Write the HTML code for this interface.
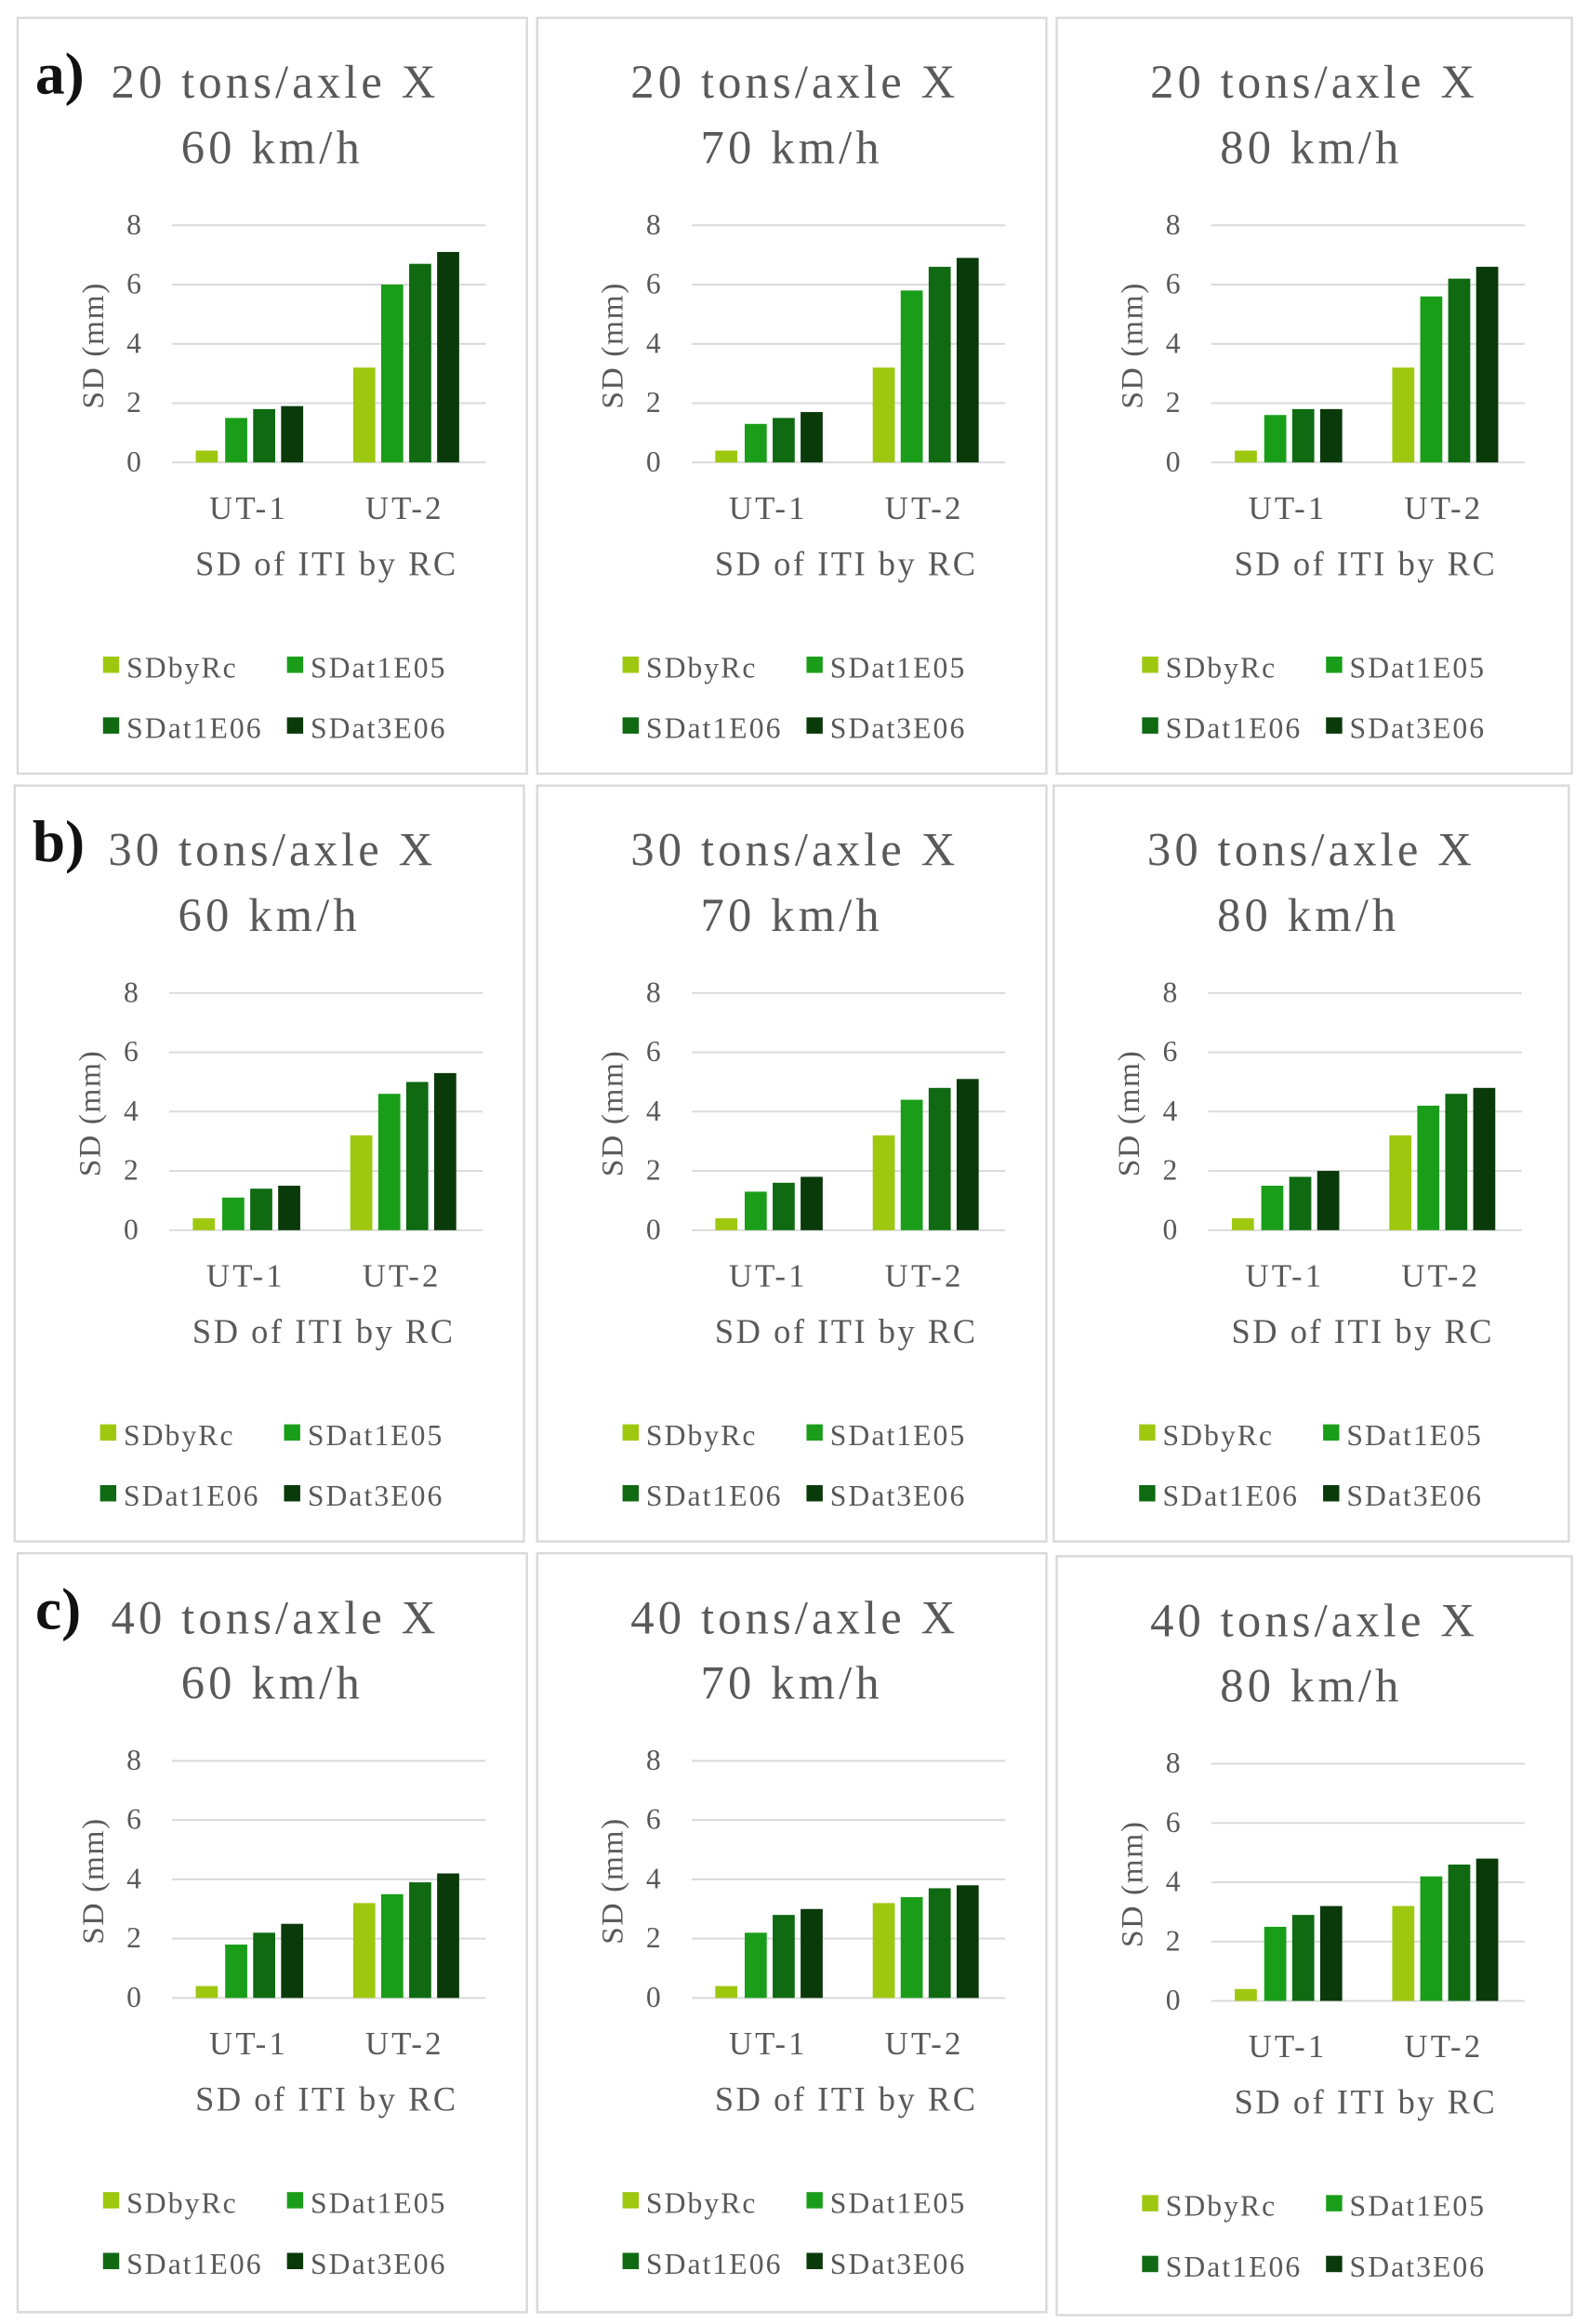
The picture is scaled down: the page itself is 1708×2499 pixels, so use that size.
<!DOCTYPE html>
<html><head><meta charset="utf-8"><style>
html,body{margin:0;padding:0;background:#fff;}
svg{display:block;}
text{font-family:"Liberation Serif",serif;fill:#595959;}
.t{font-size:32px;text-anchor:middle;letter-spacing:2.6px;}
.k{font-size:20px;text-anchor:end;}
.c{font-size:22px;text-anchor:middle;letter-spacing:2px;}
.a{font-size:23px;text-anchor:middle;letter-spacing:1.6px;}
.l{font-size:20px;letter-spacing:1.3px;}
.y{font-size:21px;text-anchor:middle;letter-spacing:1px;}
.g{stroke:#d9d9d9;stroke-width:1.2;}
.h{font-size:40px;fill:#111;font-weight:bold;}
.b1{fill:#9ec80f}.b2{fill:#1a9e1a}.b3{fill:#0f6a12}.b4{fill:#0a3a0a}
</style></head><body>
<svg width="1708" height="2499" viewBox="0 0 1079 1568" preserveAspectRatio="none" xmlns="http://www.w3.org/2000/svg">
<rect width="1079" height="1568" fill="#fff"/>

<!-- Panel a1 -->
<g transform="translate(0,0)">
<rect x="12" y="12" width="346" height="510" fill="#fff" stroke="#d9d9d9" stroke-width="1.5"/>
<text class="h" x="24" y="63">a)</text>
<text class="t" x="187" y="66">20 tons/axle X</text><text class="t" x="185" y="110">60 km/h</text>
<line class="g" x1="117" y1="152" x2="330" y2="152"/><line class="g" x1="117" y1="192" x2="330" y2="192"/><line class="g" x1="117" y1="232" x2="330" y2="232"/><line class="g" x1="117" y1="272" x2="330" y2="272"/><line class="g" x1="117" y1="312" x2="330" y2="312"/>
<text class="k" x="96" y="158">8</text><text class="k" x="96" y="198">6</text><text class="k" x="96" y="238">4</text><text class="k" x="96" y="278">2</text><text class="k" x="96" y="318">0</text>
<text class="y" transform="translate(70,233) rotate(-90)">SD (mm)</text>
<rect class="b1" x="133" y="304" width="15" height="8"/><rect class="b2" x="153" y="282" width="15" height="30"/><rect class="b3" x="172" y="276" width="15" height="36"/><rect class="b4" x="191" y="274" width="15" height="38"/>
<rect class="b1" x="240" y="248" width="15" height="64"/><rect class="b2" x="259" y="192" width="15" height="120"/><rect class="b3" x="278" y="178" width="15" height="134"/><rect class="b4" x="297" y="170" width="15" height="142"/>
<text class="c" x="169" y="350">UT-1</text><text class="c" x="275" y="350">UT-2</text>
<text class="a" x="222" y="388">SD of ITI by RC</text>
<rect class="b1" x="70" y="443" width="11" height="11"/><text class="l" x="86" y="457">SDbyRc</text>
<rect class="b2" x="195" y="443" width="11" height="11"/><text class="l" x="211" y="457">SDat1E05</text>
<rect class="b3" x="70" y="484" width="11" height="11"/><text class="l" x="86" y="498">SDat1E06</text>
<rect class="b4" x="195" y="484" width="11" height="11"/><text class="l" x="211" y="498">SDat3E06</text>
</g>

<!-- Panel a2 -->
<g transform="translate(353,0)">
<rect x="12" y="12" width="346" height="510" fill="#fff" stroke="#d9d9d9" stroke-width="1.5"/>
<text class="t" x="187" y="66">20 tons/axle X</text><text class="t" x="185" y="110">70 km/h</text>
<line class="g" x1="117" y1="152" x2="330" y2="152"/><line class="g" x1="117" y1="192" x2="330" y2="192"/><line class="g" x1="117" y1="232" x2="330" y2="232"/><line class="g" x1="117" y1="272" x2="330" y2="272"/><line class="g" x1="117" y1="312" x2="330" y2="312"/>
<text class="k" x="96" y="158">8</text><text class="k" x="96" y="198">6</text><text class="k" x="96" y="238">4</text><text class="k" x="96" y="278">2</text><text class="k" x="96" y="318">0</text>
<text class="y" transform="translate(70,233) rotate(-90)">SD (mm)</text>
<rect class="b1" x="133" y="304" width="15" height="8"/><rect class="b2" x="153" y="286" width="15" height="26"/><rect class="b3" x="172" y="282" width="15" height="30"/><rect class="b4" x="191" y="278" width="15" height="34"/>
<rect class="b1" x="240" y="248" width="15" height="64"/><rect class="b2" x="259" y="196" width="15" height="116"/><rect class="b3" x="278" y="180" width="15" height="132"/><rect class="b4" x="297" y="174" width="15" height="138"/>
<text class="c" x="169" y="350">UT-1</text><text class="c" x="275" y="350">UT-2</text>
<text class="a" x="222" y="388">SD of ITI by RC</text>
<rect class="b1" x="70" y="443" width="11" height="11"/><text class="l" x="86" y="457">SDbyRc</text>
<rect class="b2" x="195" y="443" width="11" height="11"/><text class="l" x="211" y="457">SDat1E05</text>
<rect class="b3" x="70" y="484" width="11" height="11"/><text class="l" x="86" y="498">SDat1E06</text>
<rect class="b4" x="195" y="484" width="11" height="11"/><text class="l" x="211" y="498">SDat3E06</text>
</g>

<!-- Panel a3 -->
<g transform="translate(706,0)">
<rect x="12" y="12" width="350" height="510" fill="#fff" stroke="#d9d9d9" stroke-width="1.5"/>
<text class="t" x="187" y="66">20 tons/axle X</text><text class="t" x="185" y="110">80 km/h</text>
<line class="g" x1="117" y1="152" x2="330" y2="152"/><line class="g" x1="117" y1="192" x2="330" y2="192"/><line class="g" x1="117" y1="232" x2="330" y2="232"/><line class="g" x1="117" y1="272" x2="330" y2="272"/><line class="g" x1="117" y1="312" x2="330" y2="312"/>
<text class="k" x="96" y="158">8</text><text class="k" x="96" y="198">6</text><text class="k" x="96" y="238">4</text><text class="k" x="96" y="278">2</text><text class="k" x="96" y="318">0</text>
<text class="y" transform="translate(70,233) rotate(-90)">SD (mm)</text>
<rect class="b1" x="133" y="304" width="15" height="8"/><rect class="b2" x="153" y="280" width="15" height="32"/><rect class="b3" x="172" y="276" width="15" height="36"/><rect class="b4" x="191" y="276" width="15" height="36"/>
<rect class="b1" x="240" y="248" width="15" height="64"/><rect class="b2" x="259" y="200" width="15" height="112"/><rect class="b3" x="278" y="188" width="15" height="124"/><rect class="b4" x="297" y="180" width="15" height="132"/>
<text class="c" x="169" y="350">UT-1</text><text class="c" x="275" y="350">UT-2</text>
<text class="a" x="222" y="388">SD of ITI by RC</text>
<rect class="b1" x="70" y="443" width="11" height="11"/><text class="l" x="86" y="457">SDbyRc</text>
<rect class="b2" x="195" y="443" width="11" height="11"/><text class="l" x="211" y="457">SDat1E05</text>
<rect class="b3" x="70" y="484" width="11" height="11"/><text class="l" x="86" y="498">SDat1E06</text>
<rect class="b4" x="195" y="484" width="11" height="11"/><text class="l" x="211" y="498">SDat3E06</text>
</g>

<!-- Panel b1 -->
<g transform="translate(-2,518)">
<rect x="12" y="12" width="346" height="510" fill="#fff" stroke="#d9d9d9" stroke-width="1.5"/>
<text class="h" x="24" y="63">b)</text>
<text class="t" x="187" y="66">30 tons/axle X</text><text class="t" x="185" y="110">60 km/h</text>
<line class="g" x1="117" y1="152" x2="330" y2="152"/><line class="g" x1="117" y1="192" x2="330" y2="192"/><line class="g" x1="117" y1="232" x2="330" y2="232"/><line class="g" x1="117" y1="272" x2="330" y2="272"/><line class="g" x1="117" y1="312" x2="330" y2="312"/>
<text class="k" x="96" y="158">8</text><text class="k" x="96" y="198">6</text><text class="k" x="96" y="238">4</text><text class="k" x="96" y="278">2</text><text class="k" x="96" y="318">0</text>
<text class="y" transform="translate(70,233) rotate(-90)">SD (mm)</text>
<rect class="b1" x="133" y="304" width="15" height="8"/><rect class="b2" x="153" y="290" width="15" height="22"/><rect class="b3" x="172" y="284" width="15" height="28"/><rect class="b4" x="191" y="282" width="15" height="30"/>
<rect class="b1" x="240" y="248" width="15" height="64"/><rect class="b2" x="259" y="220" width="15" height="92"/><rect class="b3" x="278" y="212" width="15" height="100"/><rect class="b4" x="297" y="206" width="15" height="106"/>
<text class="c" x="169" y="350">UT-1</text><text class="c" x="275" y="350">UT-2</text>
<text class="a" x="222" y="388">SD of ITI by RC</text>
<rect class="b1" x="70" y="443" width="11" height="11"/><text class="l" x="86" y="457">SDbyRc</text>
<rect class="b2" x="195" y="443" width="11" height="11"/><text class="l" x="211" y="457">SDat1E05</text>
<rect class="b3" x="70" y="484" width="11" height="11"/><text class="l" x="86" y="498">SDat1E06</text>
<rect class="b4" x="195" y="484" width="11" height="11"/><text class="l" x="211" y="498">SDat3E06</text>
</g>

<!-- Panel b2 -->
<g transform="translate(353,518)">
<rect x="12" y="12" width="346" height="510" fill="#fff" stroke="#d9d9d9" stroke-width="1.5"/>
<text class="t" x="187" y="66">30 tons/axle X</text><text class="t" x="185" y="110">70 km/h</text>
<line class="g" x1="117" y1="152" x2="330" y2="152"/><line class="g" x1="117" y1="192" x2="330" y2="192"/><line class="g" x1="117" y1="232" x2="330" y2="232"/><line class="g" x1="117" y1="272" x2="330" y2="272"/><line class="g" x1="117" y1="312" x2="330" y2="312"/>
<text class="k" x="96" y="158">8</text><text class="k" x="96" y="198">6</text><text class="k" x="96" y="238">4</text><text class="k" x="96" y="278">2</text><text class="k" x="96" y="318">0</text>
<text class="y" transform="translate(70,233) rotate(-90)">SD (mm)</text>
<rect class="b1" x="133" y="304" width="15" height="8"/><rect class="b2" x="153" y="286" width="15" height="26"/><rect class="b3" x="172" y="280" width="15" height="32"/><rect class="b4" x="191" y="276" width="15" height="36"/>
<rect class="b1" x="240" y="248" width="15" height="64"/><rect class="b2" x="259" y="224" width="15" height="88"/><rect class="b3" x="278" y="216" width="15" height="96"/><rect class="b4" x="297" y="210" width="15" height="102"/>
<text class="c" x="169" y="350">UT-1</text><text class="c" x="275" y="350">UT-2</text>
<text class="a" x="222" y="388">SD of ITI by RC</text>
<rect class="b1" x="70" y="443" width="11" height="11"/><text class="l" x="86" y="457">SDbyRc</text>
<rect class="b2" x="195" y="443" width="11" height="11"/><text class="l" x="211" y="457">SDat1E05</text>
<rect class="b3" x="70" y="484" width="11" height="11"/><text class="l" x="86" y="498">SDat1E06</text>
<rect class="b4" x="195" y="484" width="11" height="11"/><text class="l" x="211" y="498">SDat3E06</text>
</g>

<!-- Panel b3 -->
<g transform="translate(704,518)">
<rect x="12" y="12" width="350" height="510" fill="#fff" stroke="#d9d9d9" stroke-width="1.5"/>
<text class="t" x="187" y="66">30 tons/axle X</text><text class="t" x="185" y="110">80 km/h</text>
<line class="g" x1="117" y1="152" x2="330" y2="152"/><line class="g" x1="117" y1="192" x2="330" y2="192"/><line class="g" x1="117" y1="232" x2="330" y2="232"/><line class="g" x1="117" y1="272" x2="330" y2="272"/><line class="g" x1="117" y1="312" x2="330" y2="312"/>
<text class="k" x="96" y="158">8</text><text class="k" x="96" y="198">6</text><text class="k" x="96" y="238">4</text><text class="k" x="96" y="278">2</text><text class="k" x="96" y="318">0</text>
<text class="y" transform="translate(70,233) rotate(-90)">SD (mm)</text>
<rect class="b1" x="133" y="304" width="15" height="8"/><rect class="b2" x="153" y="282" width="15" height="30"/><rect class="b3" x="172" y="276" width="15" height="36"/><rect class="b4" x="191" y="272" width="15" height="40"/>
<rect class="b1" x="240" y="248" width="15" height="64"/><rect class="b2" x="259" y="228" width="15" height="84"/><rect class="b3" x="278" y="220" width="15" height="92"/><rect class="b4" x="297" y="216" width="15" height="96"/>
<text class="c" x="169" y="350">UT-1</text><text class="c" x="275" y="350">UT-2</text>
<text class="a" x="222" y="388">SD of ITI by RC</text>
<rect class="b1" x="70" y="443" width="11" height="11"/><text class="l" x="86" y="457">SDbyRc</text>
<rect class="b2" x="195" y="443" width="11" height="11"/><text class="l" x="211" y="457">SDat1E05</text>
<rect class="b3" x="70" y="484" width="11" height="11"/><text class="l" x="86" y="498">SDat1E06</text>
<rect class="b4" x="195" y="484" width="11" height="11"/><text class="l" x="211" y="498">SDat3E06</text>
</g>

<!-- Panel c1 -->
<g transform="translate(0,1036)">
<rect x="12" y="12" width="346" height="512" fill="#fff" stroke="#d9d9d9" stroke-width="1.5"/>
<text class="h" x="24" y="63">c)</text>
<text class="t" x="187" y="66">40 tons/axle X</text><text class="t" x="185" y="110">60 km/h</text>
<line class="g" x1="117" y1="152" x2="330" y2="152"/><line class="g" x1="117" y1="192" x2="330" y2="192"/><line class="g" x1="117" y1="232" x2="330" y2="232"/><line class="g" x1="117" y1="272" x2="330" y2="272"/><line class="g" x1="117" y1="312" x2="330" y2="312"/>
<text class="k" x="96" y="158">8</text><text class="k" x="96" y="198">6</text><text class="k" x="96" y="238">4</text><text class="k" x="96" y="278">2</text><text class="k" x="96" y="318">0</text>
<text class="y" transform="translate(70,233) rotate(-90)">SD (mm)</text>
<rect class="b1" x="133" y="304" width="15" height="8"/><rect class="b2" x="153" y="276" width="15" height="36"/><rect class="b3" x="172" y="268" width="15" height="44"/><rect class="b4" x="191" y="262" width="15" height="50"/>
<rect class="b1" x="240" y="248" width="15" height="64"/><rect class="b2" x="259" y="242" width="15" height="70"/><rect class="b3" x="278" y="234" width="15" height="78"/><rect class="b4" x="297" y="228" width="15" height="84"/>
<text class="c" x="169" y="350">UT-1</text><text class="c" x="275" y="350">UT-2</text>
<text class="a" x="222" y="388">SD of ITI by RC</text>
<rect class="b1" x="70" y="443" width="11" height="11"/><text class="l" x="86" y="457">SDbyRc</text>
<rect class="b2" x="195" y="443" width="11" height="11"/><text class="l" x="211" y="457">SDat1E05</text>
<rect class="b3" x="70" y="484" width="11" height="11"/><text class="l" x="86" y="498">SDat1E06</text>
<rect class="b4" x="195" y="484" width="11" height="11"/><text class="l" x="211" y="498">SDat3E06</text>
</g>

<!-- Panel c2 -->
<g transform="translate(353,1036)">
<rect x="12" y="12" width="346" height="512" fill="#fff" stroke="#d9d9d9" stroke-width="1.5"/>
<text class="t" x="187" y="66">40 tons/axle X</text><text class="t" x="185" y="110">70 km/h</text>
<line class="g" x1="117" y1="152" x2="330" y2="152"/><line class="g" x1="117" y1="192" x2="330" y2="192"/><line class="g" x1="117" y1="232" x2="330" y2="232"/><line class="g" x1="117" y1="272" x2="330" y2="272"/><line class="g" x1="117" y1="312" x2="330" y2="312"/>
<text class="k" x="96" y="158">8</text><text class="k" x="96" y="198">6</text><text class="k" x="96" y="238">4</text><text class="k" x="96" y="278">2</text><text class="k" x="96" y="318">0</text>
<text class="y" transform="translate(70,233) rotate(-90)">SD (mm)</text>
<rect class="b1" x="133" y="304" width="15" height="8"/><rect class="b2" x="153" y="268" width="15" height="44"/><rect class="b3" x="172" y="256" width="15" height="56"/><rect class="b4" x="191" y="252" width="15" height="60"/>
<rect class="b1" x="240" y="248" width="15" height="64"/><rect class="b2" x="259" y="244" width="15" height="68"/><rect class="b3" x="278" y="238" width="15" height="74"/><rect class="b4" x="297" y="236" width="15" height="76"/>
<text class="c" x="169" y="350">UT-1</text><text class="c" x="275" y="350">UT-2</text>
<text class="a" x="222" y="388">SD of ITI by RC</text>
<rect class="b1" x="70" y="443" width="11" height="11"/><text class="l" x="86" y="457">SDbyRc</text>
<rect class="b2" x="195" y="443" width="11" height="11"/><text class="l" x="211" y="457">SDat1E05</text>
<rect class="b3" x="70" y="484" width="11" height="11"/><text class="l" x="86" y="498">SDat1E06</text>
<rect class="b4" x="195" y="484" width="11" height="11"/><text class="l" x="211" y="498">SDat3E06</text>
</g>

<!-- Panel c3 -->
<g transform="translate(706,1038)">
<rect x="12" y="12" width="350" height="512" fill="#fff" stroke="#d9d9d9" stroke-width="1.5"/>
<text class="t" x="187" y="66">40 tons/axle X</text><text class="t" x="185" y="110">80 km/h</text>
<line class="g" x1="117" y1="152" x2="330" y2="152"/><line class="g" x1="117" y1="192" x2="330" y2="192"/><line class="g" x1="117" y1="232" x2="330" y2="232"/><line class="g" x1="117" y1="272" x2="330" y2="272"/><line class="g" x1="117" y1="312" x2="330" y2="312"/>
<text class="k" x="96" y="158">8</text><text class="k" x="96" y="198">6</text><text class="k" x="96" y="238">4</text><text class="k" x="96" y="278">2</text><text class="k" x="96" y="318">0</text>
<text class="y" transform="translate(70,233) rotate(-90)">SD (mm)</text>
<rect class="b1" x="133" y="304" width="15" height="8"/><rect class="b2" x="153" y="262" width="15" height="50"/><rect class="b3" x="172" y="254" width="15" height="58"/><rect class="b4" x="191" y="248" width="15" height="64"/>
<rect class="b1" x="240" y="248" width="15" height="64"/><rect class="b2" x="259" y="228" width="15" height="84"/><rect class="b3" x="278" y="220" width="15" height="92"/><rect class="b4" x="297" y="216" width="15" height="96"/>
<text class="c" x="169" y="350">UT-1</text><text class="c" x="275" y="350">UT-2</text>
<text class="a" x="222" y="388">SD of ITI by RC</text>
<rect class="b1" x="70" y="443" width="11" height="11"/><text class="l" x="86" y="457">SDbyRc</text>
<rect class="b2" x="195" y="443" width="11" height="11"/><text class="l" x="211" y="457">SDat1E05</text>
<rect class="b3" x="70" y="484" width="11" height="11"/><text class="l" x="86" y="498">SDat1E06</text>
<rect class="b4" x="195" y="484" width="11" height="11"/><text class="l" x="211" y="498">SDat3E06</text>
</g>
</svg>
</body></html>
